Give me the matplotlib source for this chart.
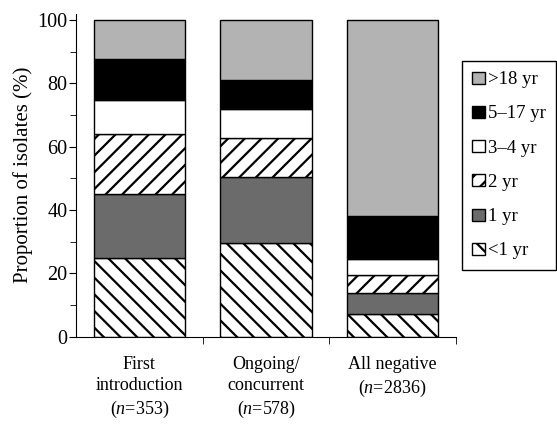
import matplotlib
matplotlib.use("Agg")
import matplotlib.pyplot as plt
import numpy as np

plt.rcParams['font.family'] = ['Liberation Serif', 'DejaVu Serif']
plt.rcParams['mathtext.fontset'] = 'custom'
plt.rcParams['mathtext.rm'] = 'Liberation Serif'
plt.rcParams['mathtext.it'] = 'Liberation Serif:italic'
plt.rcParams['hatch.linewidth'] = 1.6

groups = ["First\nintroduction\n($\\it{n}$=353)",
          "Ongoing/\nconcurrent\n($\\it{n}$=578)",
          "All negative\n($\\it{n}$=2836)"]
ages = ["<1 yr", "1 yr", "2 yr", "3\u20134 yr", "5\u201317 yr", ">18 yr"]
# percentages per group, bottom to top
lt1 = [24.9, 29.7, 7.1]
yr1 = [20.2, 20.8, 6.6]
yr2 = [18.9, 12.2, 5.8]
yr3_4 = [10.8, 9.1, 4.9]
yr5_17 = [13.0, 9.4, 13.8]
gt18 = [12.2, 18.8, 61.8]

series = [lt1, yr1, yr2, yr3_4, yr5_17, gt18]
fills = ['white', '#6b6b6b', 'white', 'white', 'black', '#b3b3b3']
hatches = ['\\\\', None, '//', None, None, None]

fig = plt.figure(figsize=(5.57, 4.26), dpi=100)
ax = fig.add_axes([0.1364, 0.2096, 0.6823, 0.7584])

x = np.arange(len(groups))
bottom = np.zeros(len(groups))
handles = []
for vals, fc, h, lab in zip(series, fills, hatches, ages):
    b = ax.bar(x, vals, 0.72, bottom=bottom, color=fc, edgecolor='black',
               linewidth=1.0, hatch=h, label=lab)
    handles.append(b)
    bottom += np.array(vals)

ax.set_xlim(-0.5, 2.5)
ax.set_ylim(0, 102)
ax.spines['top'].set_visible(False)
ax.spines['right'].set_visible(False)
ax.set_yticks(range(0, 101, 20))
ax.set_yticks(range(10, 100, 20), minor=True)
ax.tick_params(axis='y', which='major', length=5, labelsize=14.5, pad=1)
ax.tick_params(axis='y', which='minor', length=4)
ax.set_xticks(x)
ax.set_xticklabels(groups, linespacing=1.3)
ax.set_xticks([0.5, 1.5, 2.5], minor=True)
ax.tick_params(axis='x', which='major', length=0, labelsize=13, pad=14)
ax.tick_params(axis='x', which='minor', length=5)
ax.set_ylabel("Proportion of isolates (%)", fontsize=15, labelpad=3)

leg = fig.legend(handles[::-1], ages[::-1], loc='upper left',
                 bbox_to_anchor=(0.829, 0.857), bbox_transform=fig.transFigure,
                 frameon=True, fancybox=False, framealpha=1, edgecolor='black',
                 fontsize=13.5, labelspacing=0.92, handlelength=0.7,
                 handleheight=0.6, handletextpad=0.15, borderpad=0.55,
                 borderaxespad=0)
leg.get_frame().set_linewidth(1.0)

fig.savefig("out.png", dpi=100)
